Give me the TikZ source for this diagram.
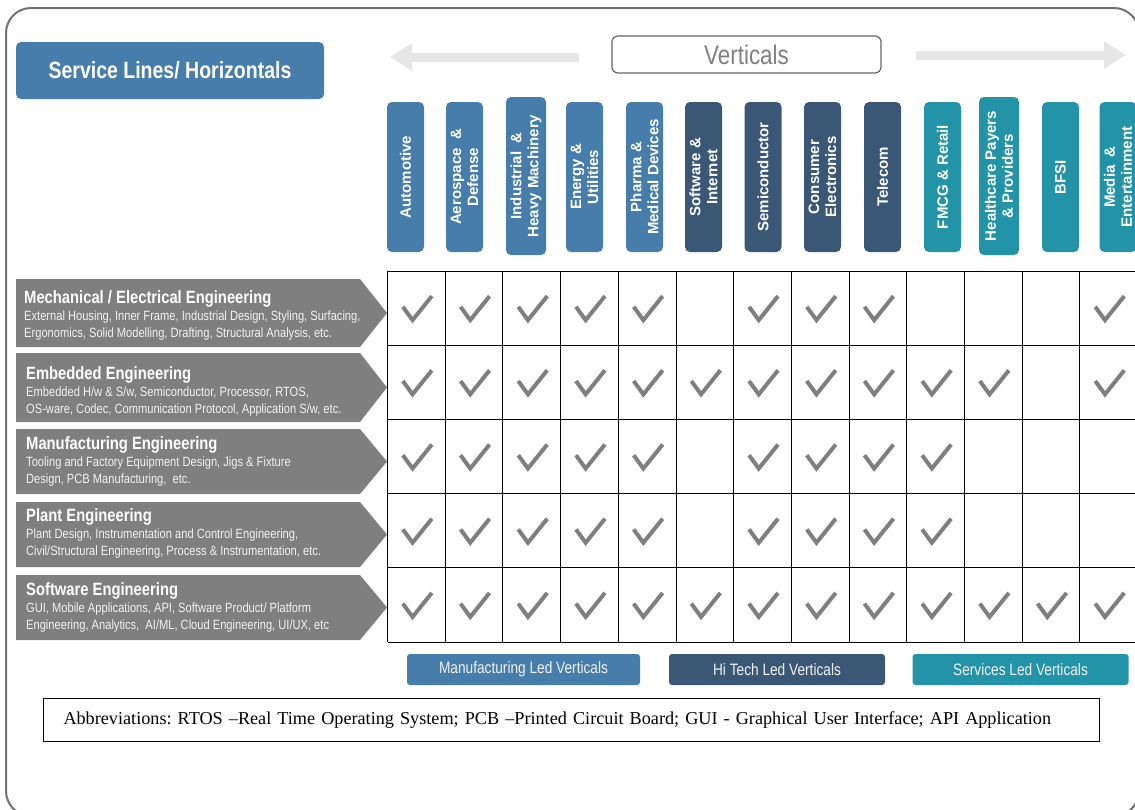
\documentclass[tikz,border=0pt]{standalone}
\usepackage{fontspec}
\setmainfont{Liberation Sans}
\newfontfamily\narrowfont{Liberation Sans}[FakeStretch=0.83]
\newfontfamily\seriffont{Liberation Serif}
\usetikzlibrary{arrows.meta,positioning}
\definecolor{manu-blue}{HTML}{467DAA}
\definecolor{hitech-navy}{HTML}{3A5876}
\definecolor{service-teal}{HTML}{2394A8}
\definecolor{line-grey}{HTML}{7F7F7F}
\definecolor{arrow-grey}{HTML}{E6E6E6}
\definecolor{text-light}{HTML}{F2F2F2}

\begin{document}
\frenchspacing
\begin{tikzpicture}[x=1pt,y=-1pt]
  \tikzstyle{vert}=[rotate=90, minimum width=150pt, minimum height=37pt, inner sep=0pt, rounded corners=5pt, text=white, align=center, font=\bfseries\fontsize{15}{17}\selectfont]
  \tikzstyle{legend}=[minimum height=31pt, inner sep=0pt, rounded corners=3pt, text=text-light, font=\narrowfont\fontsize{16.5}{18}\selectfont]
  \tikzstyle{rowtitle}=[anchor=base west, inner sep=0pt, text=white, font=\narrowfont\bfseries\fontsize{17.8}{20}\selectfont]
  \tikzstyle{rowtext}=[inner sep=0pt, align=left, text=text-light, font=\narrowfont\fontsize{13.4}{16.5}\selectfont]
  \tikzstyle{gridline}=[black, line width=1pt]
  \tikzstyle{chk}=[line-grey, line width=4pt]
  \tikzstyle{bigarrow}=[arrow-grey, line width=9pt, -{Triangle[length=22pt,width=26pt]}]

  \useasboundingbox (0,0) rectangle (1135,809);
  \draw[line-grey!90!black, line width=2pt, rounded corners=25pt] (6,8) rectangle (1139,816);

  %% top headings
  \node[fill=manu-blue, rounded corners=5pt, minimum width=308pt, minimum height=57pt, text=white,
        font=\narrowfont\bfseries\fontsize{23.5}{26}\selectfont] (lines) at (170,70.5) {Service Lines/ Horizontals};
  \node[draw=line-grey!80!black, line width=1.2pt, rounded corners=6pt, minimum width=269pt, minimum height=37pt,
        text=line-grey, font=\narrowfont\fontsize{27}{30}\selectfont] (verticals) at (746.5,54.5) {Verticals};
  \coordinate (lTail) at (579,57);
  \coordinate (lTip)  at (390,57);
  \coordinate (rTail) at (916,55);
  \coordinate (rTip)  at (1126,55);
  \draw[bigarrow] (lTail) -- (lTip);
  \draw[bigarrow] (rTail) -- (rTip);

  %% verticals
  \node[vert, fill=manu-blue] (auto)  at (405.5,177) {Automotive};
  \node[vert, fill=manu-blue] (aero)  at (464.5,177) {Aerospace \ \&\\Defense};
  \node[vert, fill=manu-blue, minimum width=158pt, minimum height=40pt] (indus) at (526,176) {Industrial \ \&\\Heavy Machinery};
  \node[vert, fill=manu-blue] (energy) at (584.5,177) {Energy \&\\Utilities};
  \node[vert, fill=manu-blue] (pharma) at (644.5,177) {Pharma \&\\Medical Devices};
  \node[vert, fill=hitech-navy] (soft)  at (703.5,177) {Software \&\\Internet};
  \node[vert, fill=hitech-navy] (semi)  at (763,177)   {Semiconductor};
  \node[vert, fill=hitech-navy] (cons)  at (822.5,177) {Consumer\\Electronics};
  \node[vert, fill=hitech-navy] (tele)  at (882.5,177) {Telecom};
  \node[vert, fill=service-teal] (fmcg) at (942.5,177) {FMCG \& Retail};
  \node[vert, fill=service-teal, minimum width=158pt, minimum height=40pt] (health) at (999,176) {Healthcare Payers\\\& Providers};
  \node[vert, fill=service-teal] (bfsi)  at (1060.5,177) {BFSI};
  \node[vert, fill=service-teal] (media) at (1118,177)  {Media \ \&\\Entertainment};

  %% service lines
  \fill[line-grey] (16,279) -- (360,279) -- (387,313) -- (360,347) -- (16,347) -- cycle;
  \fill[line-grey] (16,353) -- (360,353) -- (387,387.5) -- (360,422) -- (16,422) -- cycle;
  \fill[line-grey] (16,429) -- (360,429) -- (387,461.5) -- (360,494) -- (16,494) -- cycle;
  \fill[line-grey] (16,502) -- (360,502) -- (387,534.5) -- (360,567) -- (16,567) -- cycle;
  \fill[line-grey] (16,575) -- (360,575) -- (387,607.5) -- (360,640) -- (16,640) -- cycle;

  \node[rowtitle] (mechT) at (24,303) {Mechanical / Electrical Engineering};
  \node[rowtext, below=4pt of mechT.south west, anchor=north west] (mechD)
    {External Housing, Inner Frame, Industrial Design, Styling, Surfacing,\\Ergonomics, Solid Modelling, Drafting, Structural Analysis, etc.};
  \node[rowtitle] (embT) at (26,379) {Embedded Engineering};
  \node[rowtext, below=4pt of embT.south west, anchor=north west] (embD)
    {Embedded H/w \& S/w, Semiconductor, Processor, RTOS,\\OS-ware, Codec, Communication Protocol, Application S/w, etc.};
  \node[rowtitle] (manT) at (26,449) {Manufacturing Engineering};
  \node[rowtext, below=4pt of manT.south west, anchor=north west] (manD)
    {Tooling and Factory Equipment Design, Jigs \& Fixture\\Design, PCB Manufacturing, \ etc.};
  \node[rowtitle] (plantT) at (26,521) {Plant Engineering};
  \node[rowtext, below=4pt of plantT.south west, anchor=north west] (plantD)
    {Plant Design, Instrumentation and Control Engineering,\\Civil/Structural Engineering, Process \& Instrumentation, etc.};
  \node[rowtitle] (softT) at (26,595) {Software Engineering};
  \node[rowtext, below=4pt of softT.south west, anchor=north west] (softD)
    {GUI, Mobile Applications, API, Software Product/ Platform\\Engineering, Analytics, \ AI/ML, Cloud Engineering, UI/UX, etc};

  %% matrix
  \foreach \rw in {0,...,5}
    \draw[gridline] (387.5,{271+74.2*\rw}) -- (1137,{271+74.2*\rw});
  \foreach \cl in {0,...,13}
    \draw[gridline] ({387.5+57.7*\cl},271) -- ({387.5+57.7*\cl},642);
  \foreach \rw/\cols in {1/{1,2,3,4,5,7,8,9,13},2/{1,2,3,4,5,6,7,8,9,10,11,13},3/{1,2,3,4,5,7,8,9,10},4/{1,2,3,4,5,7,8,9,10},5/{1,...,13}}
    \foreach \cl in \cols
      \draw[chk] ({387.5+57.7*(\cl-0.5)-13.5},{271+74.2*(\rw-0.5)-1.3}) -- ++(9.7,13.3) -- ++(19.3,-24);

  %% legend
  \node[legend, fill=manu-blue, minimum width=233pt] (manuLed) at (523.5,669.5) {Manufacturing Led Verticals};
  \node[legend, fill=hitech-navy, minimum width=216pt] (hiLed) at (777,669.5) {Hi Tech Led Verticals};
  \node[legend, fill=service-teal, minimum width=216pt] (servLed) at (1020.5,669.5) {Services Led Verticals};

  \node[draw, line width=1pt, anchor=north west, minimum width=1056pt, minimum height=43pt, inner xsep=20pt,
        text width=1016pt, align=left, font=\seriffont\fontsize{18.2}{20}\selectfont] (abbr) at (43,698)
    {Abbreviations: RTOS –Real Time Operating System; PCB –Printed Circuit Board; GUI - Graphical User Interface; API Application};
\end{tikzpicture}
\end{document}
